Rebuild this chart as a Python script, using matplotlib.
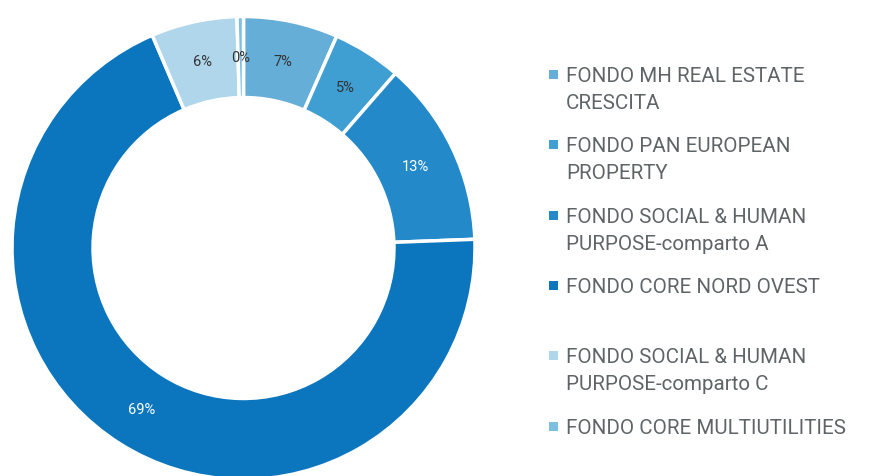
import numpy as np
import matplotlib
matplotlib.use("Agg")
import matplotlib.pyplot as plt
from matplotlib.patches import Rectangle

# quote per fondo (%)
labels = ["FONDO MH REAL ESTATE\nCRESCITA",
          "FONDO PAN EUROPEAN\nPROPERTY",
          "FONDO SOCIAL & HUMAN\nPURPOSE-comparto A",
          "FONDO CORE NORD OVEST",
          "FONDO SOCIAL & HUMAN\nPURPOSE-comparto C",
          "FONDO CORE MULTIUTILITIES"]
values = [6.6, 4.8, 13.0, 69.15, 6.0, 0.45]
colors = ["#65aed7", "#3f9ed2", "#2389c9", "#0b76be", "#afd6eb", "#7cbfe1"]
pct_colors = ["#333333", "#333333", "#ffffff", "#ffffff", "#333333", "#333333"]

W, H = 884, 477
fig = plt.figure(figsize=(W / 100, H / 100), dpi=100)

# centro e raggio del donut in pixel (la parte bassa esce dal riquadro)
cx, cy, r = 243.5, 249, 231.5
ax = fig.add_axes([(cx - r) / W, (H - cy - r) / H, 2 * r / W, 2 * r / H])
wedges, texts, autotexts = ax.pie(
    values, colors=colors, startangle=90, counterclock=False,
    autopct="%.0f%%", pctdistance=0.825,
    wedgeprops=dict(width=0.35, edgecolor="white", linewidth=2.5),
    textprops=dict(fontsize=10.5, family="Roboto"))
for t, c in zip(autotexts, pct_colors):
    t.set_color(c)
ax.set_xlim(-1, 1)
ax.set_ylim(-1, 1)
ax.axis("off")

# legenda manuale (slot di ~70 px, testo allineato in alto)
line_y = [75, 145, 216, 286, 356, 427]
for lab, c, y in zip(labels, colors, line_y):
    fig.patches.append(Rectangle((549 / W, (H - y - 5) / H), 9 / W, 9 / H,
                                 transform=fig.transFigure, facecolor=c,
                                 edgecolor="none"))
    fig.text(566 / W, (H - y + 8) / H, lab, fontsize=14.8, family="Roboto",
             color="#5f6466", va="top", ha="left", linespacing=1.55)

fig.savefig("out.png", dpi=100)
